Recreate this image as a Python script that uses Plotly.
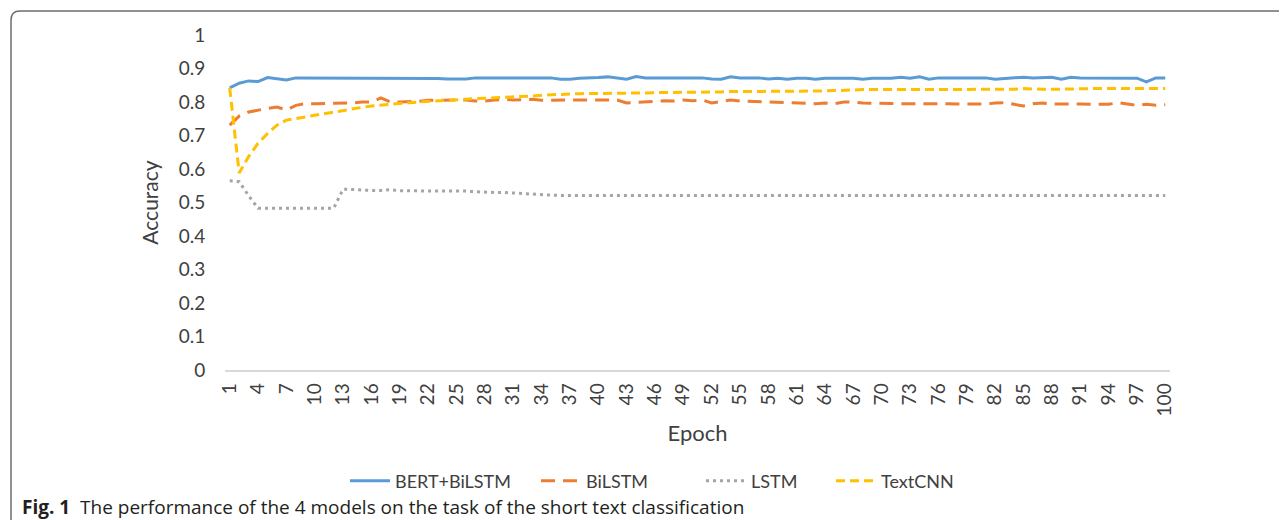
import plotly.graph_objects as go

epochs = list(range(1, 101))

bert_bilstm = [
    0.842, 0.856, 0.863, 0.861, 0.873, 0.870, 0.866, 0.872, 0.872, 0.870,
    0.872, 0.872, 0.870, 0.872, 0.870, 0.872, 0.872, 0.872, 0.872, 0.872,
    0.872, 0.872, 0.870, 0.869, 0.869, 0.869, 0.872, 0.872, 0.872, 0.872,
    0.872, 0.872, 0.872, 0.872, 0.872, 0.868, 0.868, 0.871, 0.871, 0.873,
    0.875, 0.872, 0.868, 0.876, 0.872, 0.872, 0.872, 0.872, 0.872, 0.872,
    0.872, 0.869, 0.868, 0.875, 0.872, 0.872, 0.872, 0.869, 0.871, 0.868,
    0.871, 0.871, 0.868, 0.871, 0.871, 0.871, 0.871, 0.868, 0.871, 0.871,
    0.871, 0.874, 0.871, 0.875, 0.868, 0.872, 0.872, 0.872, 0.872, 0.872,
    0.872, 0.868, 0.870, 0.873, 0.874, 0.872, 0.874, 0.874, 0.868, 0.874,
    0.872, 0.872, 0.872, 0.872, 0.872, 0.870, 0.871, 0.860, 0.872, 0.872,
]

bilstm = [
    0.731, 0.758, 0.770, 0.776, 0.781, 0.785, 0.776, 0.790, 0.795, 0.795,
    0.795, 0.797, 0.797, 0.797, 0.800, 0.800, 0.812, 0.800, 0.800, 0.800,
    0.802, 0.805, 0.805, 0.807, 0.806, 0.806, 0.803, 0.803, 0.806, 0.808,
    0.806, 0.806, 0.808, 0.805, 0.806, 0.806, 0.806, 0.806, 0.806, 0.806,
    0.806, 0.806, 0.797, 0.798, 0.800, 0.802, 0.804, 0.803, 0.806, 0.804,
    0.806, 0.797, 0.802, 0.806, 0.803, 0.802, 0.800, 0.800, 0.798, 0.798,
    0.797, 0.797, 0.795, 0.797, 0.795, 0.800, 0.800, 0.797, 0.796, 0.795,
    0.795, 0.795, 0.795, 0.795, 0.795, 0.797, 0.795, 0.794, 0.794, 0.794,
    0.794, 0.797, 0.798, 0.793, 0.788, 0.795, 0.797, 0.794, 0.793, 0.794,
    0.794, 0.793, 0.793, 0.793, 0.798, 0.793, 0.790, 0.793, 0.790, 0.792,
]

lstm = [
    0.565, 0.562, 0.520, 0.483, 0.483, 0.483, 0.483, 0.483, 0.483, 0.483,
    0.483, 0.483, 0.540, 0.538, 0.538, 0.536, 0.536, 0.538, 0.535, 0.535,
    0.535, 0.535, 0.535, 0.535, 0.535, 0.534, 0.532, 0.530, 0.530, 0.530,
    0.528, 0.527, 0.525, 0.523, 0.522, 0.521, 0.521, 0.521, 0.521, 0.521,
    0.521, 0.521, 0.521, 0.521, 0.521, 0.521, 0.521, 0.521, 0.521, 0.521,
    0.521, 0.521, 0.521, 0.521, 0.521, 0.521, 0.521, 0.521, 0.521, 0.521,
    0.521, 0.521, 0.521, 0.521, 0.521, 0.521, 0.521, 0.521, 0.521, 0.521,
    0.521, 0.521, 0.521, 0.521, 0.521, 0.521, 0.521, 0.521, 0.521, 0.521,
    0.521, 0.521, 0.521, 0.521, 0.521, 0.521, 0.521, 0.521, 0.521, 0.521,
    0.521, 0.521, 0.521, 0.521, 0.521, 0.521, 0.521, 0.521, 0.521, 0.521,
]

textcnn = [
    0.842, 0.588, 0.637, 0.677, 0.706, 0.731, 0.746, 0.751, 0.756, 0.761,
    0.766, 0.771, 0.776, 0.781, 0.784, 0.788, 0.791, 0.794, 0.796, 0.798,
    0.800, 0.802, 0.804, 0.806, 0.807, 0.808, 0.810, 0.811, 0.812, 0.813,
    0.814, 0.816, 0.818, 0.820, 0.822, 0.823, 0.824, 0.825, 0.825, 0.826,
    0.826, 0.826, 0.827, 0.827, 0.827, 0.828, 0.828, 0.829, 0.829, 0.829,
    0.830, 0.830, 0.830, 0.831, 0.831, 0.831, 0.831, 0.832, 0.832, 0.832,
    0.833, 0.833, 0.833, 0.833, 0.834, 0.834, 0.836, 0.837, 0.837, 0.837,
    0.837, 0.837, 0.837, 0.837, 0.837, 0.837, 0.837, 0.837, 0.837, 0.837,
    0.837, 0.837, 0.837, 0.838, 0.840, 0.838, 0.838, 0.838, 0.839, 0.839,
    0.839, 0.840, 0.840, 0.840, 0.840, 0.840, 0.840, 0.840, 0.840, 0.840,
]

series_names = ["BERT+BiLSTM", "BiLSTM", "LSTM", "TextCNN"]
x_tick_vals = list(range(1, 101, 3))
y_tick_vals = [0, 0.1, 0.2, 0.3, 0.4, 0.5, 0.6, 0.7, 0.8, 0.9, 1]
y_tick_text = ["0", "0.1", "0.2", "0.3", "0.4", "0.5", "0.6", "0.7", "0.8", "0.9", "1"]

OFF = 8  # default page body margin
W, H = 1287 - OFF, 520 - OFF
# plot area in screen pixels
SL, SR, ST, SB = 225, 1170, 35, 370
L, R, T, B = SL - OFF, SR - OFF, ST - OFF, SB - OFF


def px(x, y):
    """screen pixel -> paper coordinates"""
    return (x - OFF - L) / (R - L), (B - (y - OFF)) / (B - T)


styles = [
    dict(color="#5B9BD5", width=3, dash="solid"),
    dict(color="#ED7D31", width=3, dash="14px,8px"),
    dict(color="#A5A5A5", width=3, dash="3px,4px"),
    dict(color="#FFC000", width=3, dash="9px,5px"),
]
legend_ids = ["legend", "legend2", "legend3", "legend4"]
legend_text_x = [391, 582, 747, 877]

FONT = "Lato, Open Sans, sans-serif"
tick_font = dict(family=FONT, size=19, color="#404040")
leg_font = dict(family=FONT, size=18, color="#404040")

fig = go.Figure()
for name, vals, st, lid in zip(series_names, [bert_bilstm, bilstm, lstm, textcnn], styles, legend_ids):
    fig.add_trace(go.Scatter(x=epochs, y=vals, mode="lines", name=name, line=st, legend=lid))

legends = {}
for lid, tx in zip(legend_ids, legend_text_x):
    legends[lid] = dict(
        orientation="h", x=px(tx - 46, 0)[0], xanchor="left",
        y=px(0, 481)[1], yanchor="middle", font=leg_font,
        bgcolor="rgba(0,0,0,0)", itemwidth=40,
    )

# frame (top and left border with rounded corner)
x0, y0 = px(11, 530)
x1, y1 = px(11, 20)
xq, yq = px(11, 11)
x2, y2 = px(20, 11)
x3, y3 = px(1300, 11)
path = f"M {x0},{y0} L {x1},{y1} Q {xq},{yq} {x2},{y2} L {x3},{y3}"

cx, cy = px(20, 507)

fig.update_layout(
    width=W, height=H,
    margin=dict(l=L, r=W - R, t=T, b=H - B),
    paper_bgcolor="white", plot_bgcolor="white",
    showlegend=True,
    xaxis=dict(
        range=[0.5, 100.5], tickmode="array", tickvals=x_tick_vals,
        tickangle=-90, tickfont=tick_font, showgrid=False, zeroline=False,
        showline=True, linecolor="#D9D9D9", linewidth=1.5,
        ticks="outside", ticklen=4, tickcolor="rgba(0,0,0,0)",
        title=dict(text="Epoch", font=dict(family=FONT, size=22, color="#404040"), standoff=10),
    ),
    yaxis=dict(
        range=[0, 1], tickmode="array", tickvals=y_tick_vals, ticktext=y_tick_text,
        tickfont=tick_font, showgrid=False, zeroline=False, showline=False,
        ticks="outside", ticklen=15, tickcolor="rgba(0,0,0,0)",
        title=dict(text="Accuracy", font=dict(family=FONT, size=21, color="#404040"), standoff=14),
    ),
    shapes=[dict(type="path", path=path, xref="paper", yref="paper",
                 line=dict(color="#6E6E6E", width=1.5))],
    annotations=[dict(
        x=cx, y=cy, xref="paper", yref="paper", xanchor="left", yanchor="middle",
        showarrow=False, align="left",
        text="<b>Fig. 1</b>  The performance of the 4 models on the task of the short text classification",
        font=dict(family="Open Sans, Noto Sans, sans-serif", size=19, color="#231F20"),
    )],
    **legends,
)

fig.write_html("out.html")
